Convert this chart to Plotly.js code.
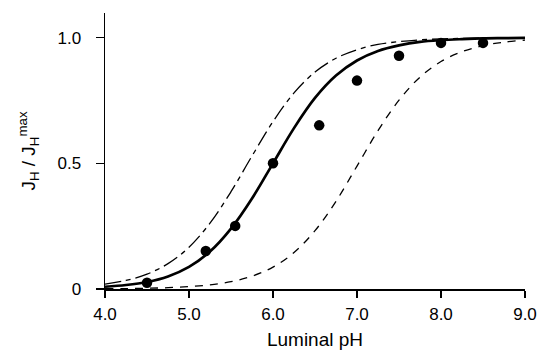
<!DOCTYPE html>
<html><head><meta charset="utf-8">
<script src="https://cdn.plot.ly/plotly-3.0.1.min.js"></script>
<style>body{margin:0;background:#fff}#c{width:541px;height:350px}</style>
</head><body><div id="c"></div>
<script>
const pH = [4.0,4.25,4.5,4.75,5.0,5.25,5.5,5.75,6.0,6.25,6.5,6.75,7.0,7.25,7.5,7.75,8.0,8.25,8.5,8.75,9.0];
const solidFit = [0.009,0.016,0.028,0.050,0.088,0.149,0.240,0.360,0.500,0.640,0.760,0.849,0.909,0.947,0.969,0.983,0.990,0.994,0.997,0.998,0.999];
const dashDotFit = [0.0196,0.034,0.059,0.101,0.166,0.262,0.387,0.529,0.666,0.780,0.863,0.918,0.952,0.973,0.984,0.991,0.995,0.997,0.998,0.999,0.9995];
const dashedFit = [0.001,0.0017,0.003,0.0053,0.0095,0.0167,0.0293,0.0509,0.0872,0.145,0.232,0.349,0.489,0.630,0.751,0.843,0.905,0.944,0.968,0.982,0.990];
const obsPH = [4.5,5.2,5.55,6.0,6.55,7.0,7.5,8.0,8.5];
const obsJ = [0.025,0.151,0.251,0.50,0.651,0.829,0.928,0.979,0.979];
const xTicks = [4,5,6,7,8,9];
const xTickText = ['4.0','5.0','6.0','7.0','8.0','9.0'];
const yTicks = [0,0.5,1.0];
const yTickText = ['0','0.5','1.0'];

const traces = [
  {x:pH,y:dashedFit,mode:'lines',line:{color:'#000',width:1.3,dash:'8px,7px',shape:'spline'},hoverinfo:'skip'},
  {x:pH,y:dashDotFit,mode:'lines',line:{color:'#000',width:1.3,dash:'16px,5px,5px,5px',shape:'spline'},hoverinfo:'skip'},
  {x:pH,y:solidFit,mode:'lines',line:{color:'#000',width:2.7,shape:'spline'},hoverinfo:'skip'},
  {x:obsPH,y:obsJ,mode:'markers',marker:{color:'#000',size:10.5},cliponaxis:false}
];
const tickFont = {family:'"Liberation Sans", Arial, sans-serif',size:17,color:'#000'};
const titleFont = {family:'"Liberation Sans", Arial, sans-serif',size:19,color:'#000'};
const layout = {
  width:541,height:350,margin:{l:105,r:16,t:13,b:61},
  paper_bgcolor:'#fff',plot_bgcolor:'#fff',showlegend:false,font:tickFont,
  xaxis:{range:[4,9],tickvals:xTicks,ticktext:xTickText,ticks:'outside',ticklen:7,tickwidth:1.2,tickcolor:'#000',
    showline:true,linecolor:'#000',linewidth:1.5,showgrid:false,zeroline:false,ticklabelstandoff:2,
    title:{text:'Luminal pH',font:titleFont,standoff:10},tickfont:tickFont},
  yaxis:{range:[0,1.098],tickvals:yTicks,ticktext:yTickText,ticks:'outside',ticklen:8,tickwidth:1.2,tickcolor:'#000',
    showline:true,linecolor:'#000',linewidth:1.5,showgrid:false,zeroline:false,ticklabelstandoff:11,
    title:{text:'J<sub>H</sub> / J<sub>H</sub><sup>max</sup>',font:titleFont,standoff:17},tickfont:tickFont}
};
Plotly.newPlot('c',traces,layout,{staticPlot:true});
</script></body></html>
